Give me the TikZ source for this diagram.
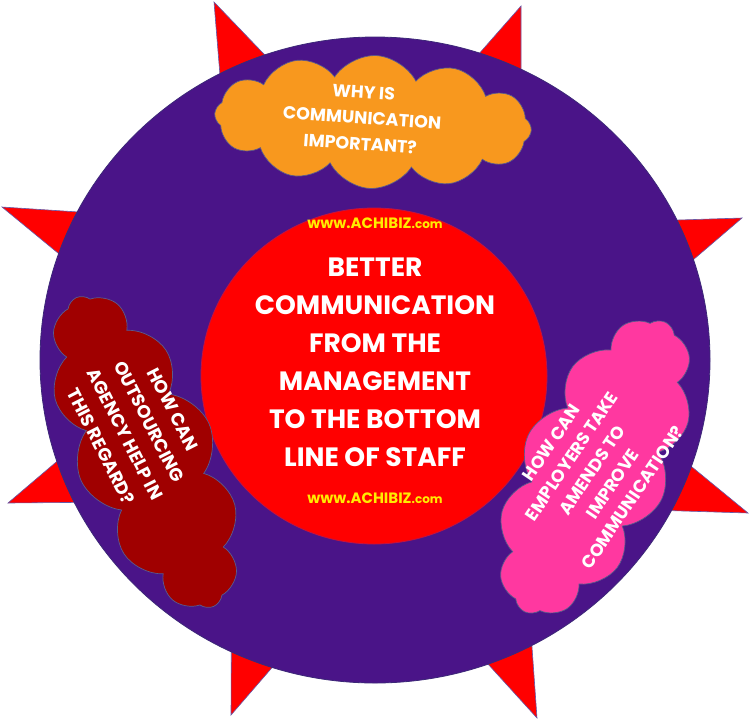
\documentclass[tikz,border=0pt]{standalone}
\usepackage{fontspec}
\setmainfont{Poppins}
\usetikzlibrary{shapes.symbols}
\definecolor{spikered}{RGB}{255,0,0}
\definecolor{spikeline}{RGB}{100,90,170}
\definecolor{feltpurple}{RGB}{74,20,136}
\definecolor{rimline}{RGB}{60,40,120}
\definecolor{corered}{RGB}{255,0,0}
\definecolor{coreline}{RGB}{190,20,70}
\definecolor{orangecloud}{RGB}{248,152,30}
\definecolor{maroonc}{RGB}{160,0,0}
\definecolor{pinkcloud}{RGB}{255,56,160}
\definecolor{cloudline}{RGB}{90,90,140}
\definecolor{urlyellow}{RGB}{255,236,0}
\tikzset{
  spikes/.style={fill=spikered, draw=spikeline, line width=0.6pt, line join=miter, miter limit=20},
  feltdisc/.style={fill=feltpurple, draw=rimline, line width=0.8pt},
  coredisc/.style={fill=corered, draw=coreline, line width=0.8pt},
  cloudbox/.style={cloud, cloud ignores aspect, draw=cloudline, line width=0.7pt, inner sep=0pt},
  whitetext/.style={text=white, align=center, inner sep=0pt},
  urltext/.style={text=urlyellow, inner sep=0pt, font=\bfseries\fontsize{15}{15}\selectfont},
}
\begin{document}
\begin{tikzpicture}[x=1pt,y=-1pt]
\useasboundingbox (0,0) rectangle (751,721);
\fill[white] (0,0) rectangle (751,721);
% sunburst
\draw[spikes] (214,2) -- (376,171) -- (521,6) -- (521,225) -- (742,218) -- (569,366)
  -- (748,513) -- (522,506) -- (537,718) -- (379,544) -- (231,715) -- (232,501)
  -- (8,503) -- (182,355) -- (2,207) -- (232,222) -- cycle;
% purple disc
\draw[feltdisc] (375,360) ellipse [x radius=335, y radius=323];
% centre disc
\draw[coredisc] (374,376) ellipse [x radius=173, y radius=168];
% clouds
\node[cloudbox, fill=orangecloud, cloud puffs=12, cloud puff arc=120,
      minimum width=317pt, minimum height=133pt, rotate=-3] (why) at (373,122) {};
\node[cloudbox, fill=maroonc, cloud puffs=12, cloud puff arc=120,
      minimum width=338pt, minimum height=140pt, rotate=-66] (how) at (145,452) {};
\node[cloudbox, fill=pinkcloud, cloud puffs=12, cloud puff arc=120,
      minimum width=322pt, minimum height=148pt, rotate=64] (emp) at (595,467) {};
% texts
\node[whitetext, rotate=-4, font=\bfseries\fontsize{17.5}{26}\selectfont] (whytxt) at (362,118)
  {WHY IS\\COMMUNICATION\\IMPORTANT?};
\node[whitetext, rotate=-63, font=\bfseries\fontsize{18}{27}\selectfont] (howtxt) at (137,428)
  {HOW CAN\\OUTSOURCING\\AGENCY HELP IN\\THIS REGARD?};
\node[whitetext, rotate=56, font=\bfseries\fontsize{17.5}{24.5}\selectfont] (emptxt) at (592,470)
  {HOW CAN\\EMPLOYERS TAKE\\AMENDS TO\\IMPROVE\\COMMUNICATION?};
\node[whitetext, font=\bfseries\fontsize{26.5}{38}\selectfont] (core) at (375,362)
  {BETTER\\COMMUNICATION\\FROM THE\\MANAGEMENT\\TO THE BOTTOM\\LINE OF STAFF};
\node[urltext] (urltop) at (375,223) {www.ACHIBIZ{\fontsize{12}{12}\selectfont.com}};
\node[urltext] (urlbot) at (375,498) {www.ACHIBIZ{\fontsize{12}{12}\selectfont.com}};
\end{tikzpicture}
\end{document}
